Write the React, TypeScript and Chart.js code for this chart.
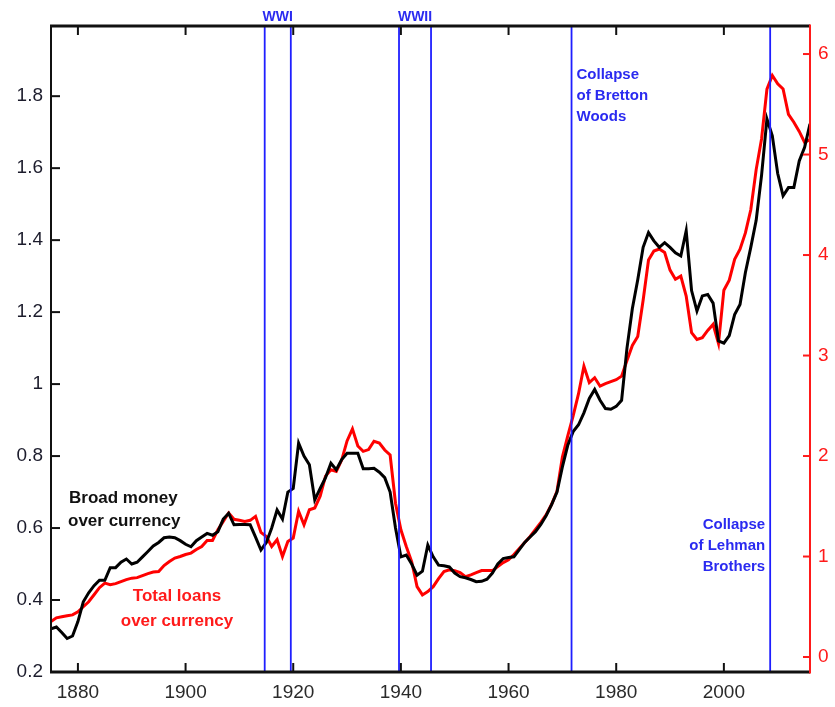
import React, { useEffect, useRef } from "react";
import { Chart, registerables } from "chart.js";

Chart.register(...registerables);

const broadYears = [
  1875, 1876, 1877, 1878, 1879, 1880, 1881, 1882, 1883, 1884, 1885, 1886, 1887, 1888, 1889,
  1890, 1891, 1892, 1893, 1894, 1895, 1896, 1897, 1898, 1899, 1900, 1901, 1902, 1903, 1904,
  1905, 1906, 1907, 1908, 1909, 1910, 1911, 1912, 1913, 1914, 1915, 1916, 1917, 1918, 1919,
  1920, 1921, 1922, 1923, 1924, 1925, 1926, 1927, 1928, 1929, 1930, 1931, 1932, 1933, 1934,
  1935, 1936, 1937, 1938, 1939, 1940, 1941, 1942, 1943, 1944, 1945, 1946, 1947, 1948, 1949,
  1950, 1951, 1952, 1953, 1954, 1955, 1956, 1957, 1958, 1959, 1960, 1961, 1962, 1963, 1964,
  1965, 1966, 1967, 1968, 1969, 1970, 1971, 1972, 1973, 1974, 1975, 1976, 1977, 1978, 1979,
  1980, 1981, 1982, 1983, 1984, 1985, 1986, 1987, 1988, 1989, 1990, 1991, 1992, 1993, 1994,
  1995, 1996, 1997, 1998, 1999, 2000, 2001, 2002, 2003, 2004, 2005, 2006, 2007, 2008, 2009,
  2010, 2011, 2012, 2013, 2014, 2015, 2016,
];

const broadMoney = [
  0.32, 0.325, 0.31, 0.293, 0.3, 0.34, 0.395, 0.42, 0.44, 0.455, 0.455, 0.49, 0.49, 0.505, 0.514,
  0.5, 0.505, 0.52, 0.535, 0.55, 0.56, 0.573, 0.575, 0.573, 0.565, 0.555, 0.548, 0.565, 0.575, 0.585,
  0.58, 0.59, 0.625, 0.641, 0.609, 0.61, 0.61, 0.609, 0.575, 0.539, 0.56, 0.6, 0.65, 0.625, 0.7,
  0.71, 0.836, 0.8, 0.776, 0.678, 0.71, 0.74, 0.78, 0.762, 0.79, 0.808, 0.808, 0.808, 0.765, 0.765,
  0.766, 0.755, 0.74, 0.7, 0.6, 0.52, 0.525, 0.5, 0.469, 0.48, 0.553, 0.52, 0.497, 0.495, 0.492,
  0.475, 0.465, 0.462, 0.457, 0.451, 0.452, 0.458, 0.475, 0.5, 0.515, 0.518, 0.52, 0.54, 0.56, 0.575,
  0.59, 0.61, 0.635, 0.665, 0.7, 0.77, 0.83, 0.868, 0.887, 0.92, 0.96, 0.985, 0.955, 0.932, 0.93,
  0.938, 0.955, 1.1, 1.21, 1.29, 1.38, 1.421, 1.398, 1.38, 1.393, 1.38, 1.365, 1.356, 1.426, 1.26,
  1.203, 1.245, 1.249, 1.225, 1.12, 1.114, 1.135, 1.193, 1.221, 1.31, 1.38, 1.455, 1.58, 1.737, 1.69,
  1.585, 1.523, 1.546, 1.546, 1.62, 1.658, 1.723,
];

const totalLoans = [
  0.352, 0.39, 0.4, 0.41, 0.419, 0.45, 0.5, 0.55, 0.62, 0.69, 0.735, 0.72, 0.73, 0.75, 0.77,
  0.785, 0.79, 0.81, 0.83, 0.845, 0.85, 0.91, 0.95, 0.985, 1.0, 1.02, 1.034, 1.07, 1.1, 1.16,
  1.16, 1.266, 1.35, 1.433, 1.37, 1.36, 1.35, 1.36, 1.4, 1.24, 1.2, 1.1, 1.167, 1.0, 1.15,
  1.183, 1.45, 1.316, 1.466, 1.483, 1.6, 1.8, 1.864, 1.847, 1.96, 2.15, 2.27, 2.1, 2.047, 2.064,
  2.147, 2.13, 2.06, 2.01, 1.53, 1.266, 1.1, 0.95, 0.7, 0.618, 0.651, 0.7, 0.78, 0.85, 0.867,
  0.86, 0.84, 0.8, 0.818, 0.84, 0.86, 0.86, 0.86, 0.9, 0.94, 0.967, 1.02, 1.08, 1.14, 1.2,
  1.27, 1.34, 1.416, 1.52, 1.65, 1.99, 2.2, 2.4, 2.62, 2.894, 2.73, 2.779, 2.695, 2.72, 2.74,
  2.76, 2.795, 2.95, 3.1, 3.19, 3.55, 3.95, 4.04, 4.06, 4.025, 3.85, 3.759, 3.79, 3.592, 3.227,
  3.16, 3.177, 3.25, 3.31, 3.12, 3.65, 3.75, 3.958, 4.058, 4.22, 4.45, 4.85, 5.155, 5.65, 5.786,
  5.703, 5.653, 5.4, 5.321, 5.23, 5.121, 5.15,
];

const xTicks = [1880, 1900, 1920, 1940, 1960, 1980, 2000];
const leftTicks = [0.2, 0.4, 0.6, 0.8, 1.0, 1.2, 1.4, 1.6, 1.8];
const rightTicks = [0, 1, 2, 3, 4, 5, 6];

const eventYears = [1914.7, 1919.55, 1939.65, 1945.6, 1971.7, 2008.6];

const FONT = "'Liberation Sans', Arial, Helvetica, sans-serif";
const BLUE = "#1f1fff";
const BLUE_TEXT = "#2a2af0";

const framePlugin = {
  id: "frame",
  afterDatasetsDraw(chart: any) {
    const { ctx, chartArea, scales } = chart;
    const x = scales.x;
    ctx.save();
    ctx.strokeStyle = BLUE;
    ctx.lineWidth = 1.8;
    for (const yr of eventYears) {
      const px = x.getPixelForValue(yr);
      ctx.beginPath();
      ctx.moveTo(px, chartArea.top);
      ctx.lineTo(px, chartArea.bottom);
      ctx.stroke();
    }
    ctx.restore();
  },
  afterDraw(chart: any) {
    const { ctx, chartArea, scales } = chart;
    const { left, right, top, bottom } = chartArea;
    const x = scales.x;
    const yl = scales.y;
    const yr = scales.y1;
    ctx.save();
    // ticks
    ctx.strokeStyle = "#111";
    ctx.lineWidth = 2;
    for (const t of xTicks) {
      const px = x.getPixelForValue(t);
      ctx.beginPath();
      ctx.moveTo(px, bottom);
      ctx.lineTo(px, bottom - 9);
      ctx.moveTo(px, top);
      ctx.lineTo(px, top + 9);
      ctx.stroke();
    }
    for (const t of leftTicks) {
      const py = yl.getPixelForValue(t);
      ctx.beginPath();
      ctx.moveTo(left, py);
      ctx.lineTo(left + 9, py);
      ctx.stroke();
    }
    ctx.strokeStyle = "#ff1a1a";
    for (const t of rightTicks) {
      const py = yr.getPixelForValue(t);
      ctx.beginPath();
      ctx.moveTo(right, py);
      ctx.lineTo(right - 7, py);
      ctx.stroke();
    }
    // frame
    ctx.strokeStyle = "#111";
    ctx.lineWidth = 2;
    ctx.beginPath();
    ctx.moveTo(left, top);
    ctx.lineTo(left, bottom);
    ctx.stroke();
    ctx.lineWidth = 3;
    ctx.beginPath();
    ctx.moveTo(left - 1, top);
    ctx.lineTo(right, top);
    ctx.moveTo(left - 1, bottom);
    ctx.lineTo(right, bottom);
    ctx.stroke();
    ctx.strokeStyle = "#ff1a1a";
    ctx.lineWidth = 2;
    ctx.beginPath();
    ctx.moveTo(right, top - 1.5);
    ctx.lineTo(right, bottom + 1.5);
    ctx.stroke();

    // annotations
    const px = (v: number) => x.getPixelForValue(v);
    ctx.textBaseline = "middle";
    ctx.fillStyle = BLUE_TEXT;
    ctx.font = `bold 14px ${FONT}`;
    ctx.textAlign = "center";
    ctx.fillText("WWI", (px(eventYears[0]) + px(eventYears[1])) / 2, 17);
    ctx.fillText("WWII", (px(eventYears[2]) + px(eventYears[3])) / 2, 17);

    ctx.font = `bold 15px ${FONT}`;
    ctx.textAlign = "left";
    const bw = px(eventYears[4]) + 5;
    ctx.fillText("Collapse", bw, 75);
    ctx.fillText("of Bretton", bw, 96);
    ctx.fillText("Woods", bw, 117);

    ctx.textAlign = "right";
    const lb = px(eventYears[5]) - 5;
    ctx.fillText("Collapse", lb, 525);
    ctx.fillText("of Lehman", lb, 546);
    ctx.fillText("Brothers", lb, 567);

    ctx.font = `bold 17px ${FONT}`;
    ctx.fillStyle = "#111";
    ctx.textAlign = "left";
    ctx.fillText("Broad money", 69, 498);
    ctx.fillText("over currency", 68, 521);

    ctx.fillStyle = "#ff1a1a";
    ctx.textAlign = "center";
    ctx.fillText("Total loans", 177, 596);
    ctx.fillText("over currency", 177, 621);
    ctx.restore();
  },
};

export default function App() {
  const canvasRef = useRef<HTMLCanvasElement | null>(null);

  useEffect(() => {
    const canvas = canvasRef.current;
    if (!canvas) return;
    const chart = new Chart(canvas, {
      type: "line",
      data: {
        datasets: [
          {
            label: "Broad money over currency",
            data: broadYears.map((yr, i) => ({ x: yr, y: broadMoney[i] })),
            borderColor: "#000000",
            borderWidth: 3,
            pointRadius: 0,
            tension: 0,
            yAxisID: "y",
          },
          {
            label: "Total loans over currency",
            data: broadYears.map((yr, i) => ({ x: yr, y: totalLoans[i] })),
            borderColor: "#ff0000",
            borderWidth: 3,
            pointRadius: 0,
            tension: 0,
            yAxisID: "y1",
          },
        ],
      },
      options: {
        animation: false,
        responsive: false,
        maintainAspectRatio: false,
        layout: { padding: { top: 26, left: 0, right: 0, bottom: 0 } },
        plugins: {
          legend: { display: false },
          tooltip: { enabled: false },
          title: { display: false },
        },
        scales: {
          x: {
            type: "linear",
            min: 1875,
            max: 2016,
            grid: { display: false, drawTicks: false },
            border: { display: false },
            afterBuildTicks: (s: any) => {
              s.ticks = xTicks.map((v) => ({ value: v }));
            },
            afterFit: (s: any) => {
              s.height = 35;
            },
            ticks: {
              autoSkip: false,
              maxRotation: 0,
              padding: 9,
              color: "#2a2a2a",
              font: { family: FONT, size: 19 },
              callback: (v: any) => String(v),
            },
          },
          y: {
            type: "linear",
            position: "left",
            min: 0.2,
            max: 1.995,
            grid: { display: false, drawTicks: false },
            border: { display: false },
            afterBuildTicks: (s: any) => {
              s.ticks = leftTicks.map((v) => ({ value: v }));
            },
            afterFit: (s: any) => {
              s.width = 51;
            },
            ticks: {
              autoSkip: false,
              padding: 8,
              color: "#1c1c2c",
              font: { family: FONT, size: 19 },
              callback: (v: any) => String(Math.round(Number(v) * 10) / 10),
            },
          },
          y1: {
            type: "linear",
            position: "right",
            min: -0.149,
            max: 6.279,
            grid: { display: false, drawTicks: false },
            border: { display: false },
            afterBuildTicks: (s: any) => {
              s.ticks = rightTicks.map((v) => ({ value: v }));
            },
            afterFit: (s: any) => {
              s.width = 25;
            },
            ticks: {
              autoSkip: false,
              padding: 8,
              color: "#ff1a1a",
              font: { family: FONT, size: 19 },
              callback: (v: any) => String(v),
            },
          },
        },
      },
      plugins: [framePlugin],
    });
    return () => chart.destroy();
  }, []);

  return (
    <div style={{ position: "fixed", left: 0, top: 0, width: 835, height: 707, background: "#fff" }}>
      <canvas ref={canvasRef} width={835} height={707} style={{ width: 835, height: 707 }} />
    </div>
  );
}
